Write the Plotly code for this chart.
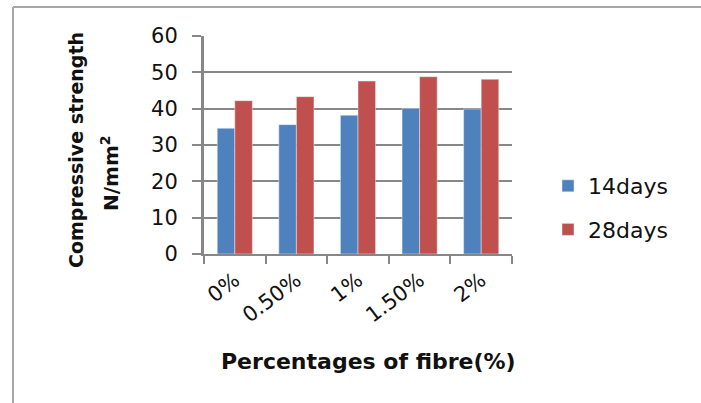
import plotly.graph_objects as go

# Fibre content and compressive strength (N/mm²) at two curing ages
fibre_pct = ["0%", "0.50%", "1%", "1.50%", "2%"]
strength_14days = [34.6, 35.6, 38.2, 40.1, 39.9]
strength_28days = [42.2, 43.3, 47.6, 48.8, 48.1]
y_ticks = [0, 10, 20, 30, 40, 50, 60]

W, H = 701, 403
FONT = "DejaVu Sans"
GRID = "#878787"
INK = "#111111"

fig = go.Figure()
fig.add_trace(go.Bar(name="14days", x=fibre_pct, y=strength_14days,
                     marker_color="#4F81BD", legendgroup="a"))
fig.add_trace(go.Bar(name="28days", x=fibre_pct, y=strength_28days,
                     marker_color="#C0504D", legendgroup="b"))

# plot area placed in pixel terms (margins are zero, so paper == page)
x0, x1 = 204, 512
y_top, y_bot = 36, 254


def label(text, px, py, size, angle=0):
    return dict(text=text, x=px / W, y=1 - py / H, xref="paper", yref="paper",
                xanchor="center", yanchor="middle", textangle=angle,
                showarrow=False, font=dict(size=size))


fig.update_layout(
    width=W, height=H,
    margin=dict(l=0, r=0, t=0, b=0, autoexpand=False),
    paper_bgcolor="white", plot_bgcolor="white",
    barmode="group", bargap=0.43, bargroupgap=0,
    font=dict(family=FONT, size=21, color=INK),
    showlegend=True,
    legend=dict(x=548 / W, y=1 - 165 / H, xanchor="left", yanchor="top",
                tracegroupgap=12, font=dict(size=22),
                itemwidth=30, bgcolor="rgba(0,0,0,0)"),
    xaxis=dict(domain=[x0 / W, x1 / W], type="category", automargin=False,
               showline=True, linecolor=GRID, linewidth=2,
               ticks="outside", tickson="boundaries", ticklen=8,
               tickcolor=GRID, tickwidth=2, tickangle=-37,
               tickfont=dict(size=21), ticklabelstandoff=4, showgrid=False),
    yaxis=dict(domain=[1 - y_bot / H, 1 - y_top / H], range=[0, 60],
               automargin=False, tickvals=y_ticks,
               showline=True, linecolor=GRID, linewidth=3,
               ticks="outside", ticklen=9, tickcolor=GRID, tickwidth=2,
               showgrid=True, gridcolor=GRID, gridwidth=2,
               ticklabelstandoff=10, tickfont=dict(size=21), zeroline=False),
    annotations=[
        label("<b>Compressive strength</b>", 76, 150, 19, -90),
        label("<b>N/mm<sup>2</sup></b>", 110, 173, 20, -90),
        label("<b>Percentages of fibre(%)</b>", 368, 361, 22),
    ],
    shapes=[
        dict(type="line", xref="paper", yref="paper",
             x0=13 / W, x1=1, y0=1 - 7 / H, y1=1 - 7 / H,
             line=dict(color="#A6A6A6", width=2)),
        dict(type="line", xref="paper", yref="paper",
             x0=13 / W, x1=13 / W, y0=1 - 7 / H, y1=0,
             line=dict(color="#A6A6A6", width=2)),
    ],
)

fig.write_html("out.html")
